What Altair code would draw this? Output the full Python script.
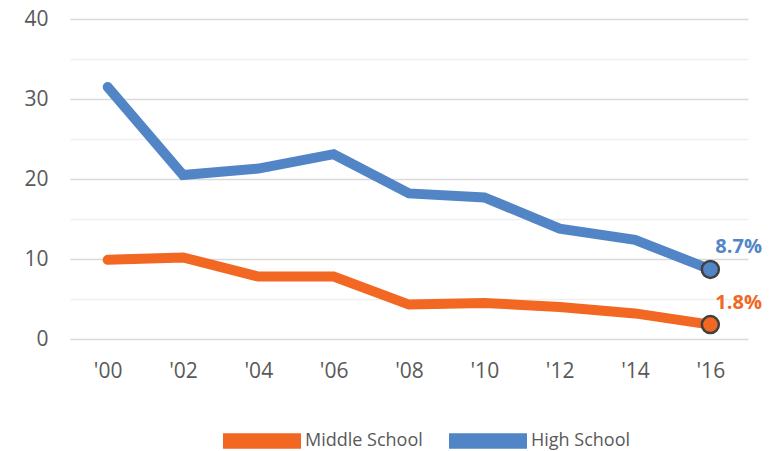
import altair as alt
import pandas as pd

years = ["'00", "'02", "'04", "'06", "'08", "'10", "'12", "'14", "'16"]
middle = [9.9, 10.2, 7.8, 7.8, 4.3, 4.5, 4.0, 3.2, 1.8]
high = [31.5, 20.5, 21.3, 23.1, 18.2, 17.7, 13.8, 12.4, 8.7]
series = ["Middle School", "High School"]
colors = ["#F26722", "#5285C6"]
end_labels = ["1.8%", "8.7%"]

rows = []
for s, vals in zip(series, [middle, high]):
    for y, v in zip(years, vals):
        rows.append({"year": y, "school": s, "value": v})
df = pd.DataFrame(rows)

ends = pd.DataFrame({
    "year": [years[-1], years[-1]],
    "school": series,
    "value": [middle[-1], high[-1]],
    "label": end_labels,
})

FONT = "Open Sans"
GRAY = "#595959"

x = alt.X("year:N", sort=years, title=None,
          scale=alt.Scale(type="point", padding=0.5),
          axis=alt.Axis(labelAngle=0, domain=False, ticks=False, grid=False,
                        labelPadding=21, labelFontSize=21, labelColor=GRAY,
                        labelFont=FONT))
y = alt.Y("value:Q", title=None,
          scale=alt.Scale(domain=[0, 40], nice=False),
          axis=alt.Axis(values=[0, 5, 10, 15, 20, 25, 30, 35, 40],
                        labelExpr="datum.value % 10 === 0 ? datum.label : ''",
                        domain=False, ticks=False, labelPadding=22,
                        labelFontSize=21, labelColor=GRAY, labelFont=FONT,
                        gridColor={"condition": {"test": "datum.value % 10 === 0", "value": "#d9d9d9"},
                                   "value": "#efefef"},
                        gridWidth=1.5))

color_scale = alt.Scale(domain=series, range=colors)

lines = alt.Chart(df).mark_line(strokeWidth=10, strokeCap="round").encode(
    x=x, y=y,
    color=alt.Color("school:N", scale=color_scale, sort=series, legend=None),
    detail="school:N",
)

points = alt.Chart(ends).mark_circle(size=290, opacity=1).encode(
    x=x, y=y,
    color=alt.Color("school:N", scale=color_scale, sort=series, title=None,
                    legend=alt.Legend(orient="none", direction="horizontal",
                                      legendX=153, legendY=383,
                                      symbolType="M-1,-0.2L1,-0.2L1,0.2L-1,0.2Z",
                                      symbolSize=6084, symbolStrokeWidth=0,
                                      symbolOpacity=1,
                                      labelFontSize=18, labelColor=GRAY,
                                      labelFont=FONT, labelOffset=4,
                                      columnPadding=26, padding=0)),
)

rings = alt.Chart(ends).mark_point(size=290, filled=False, stroke="#404040",
                                   strokeWidth=2.5, opacity=1).encode(
    x=x, y=y,
)

texts = alt.Chart(ends).mark_text(align="left", dx=5, dy=-22, fontSize=20,
                                  fontWeight="bold", font=FONT).encode(
    x=x, y=y, text="label:N",
    color=alt.Color("school:N", scale=color_scale, legend=None),
)

chart = alt.layer(lines, points, rings, texts).resolve_legend(
    color="independent"
).properties(
    width=678, height=320,
    autosize=alt.AutoSizeParams(type="none"),
    padding={"left": 62, "top": 11, "right": 23, "bottom": 112},
    background="white",
).configure_view(strokeWidth=0)

chart.save("out.html", embed_options={"renderer": "svg", "actions": False})
